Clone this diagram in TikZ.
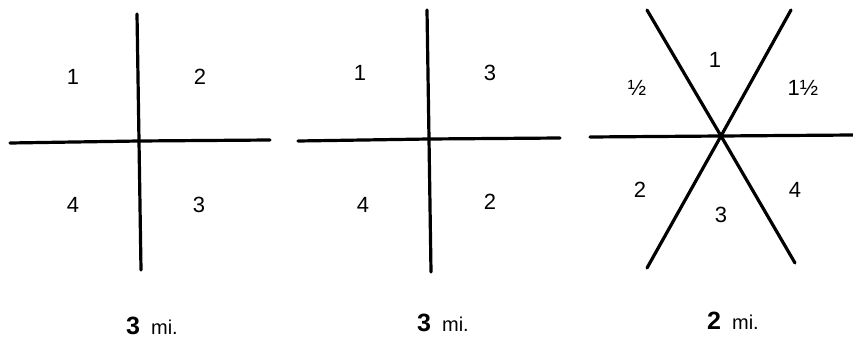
\documentclass[tikz,border=0pt]{standalone}
\usepackage{fontspec}
\setmainfont{Liberation Sans}
\usepackage{tikz}
\usetikzlibrary{positioning, calc}

\begin{document}
\begin{tikzpicture}[x=1pt, y=-1pt,
    road/.style={line width=3.2pt, line cap=round},
    zone/.style={font=\fontsize{22}{22}\selectfont, inner sep=0pt},
    caption/.style={font=\fontsize{20}{20}\selectfont, inner sep=0pt, anchor=base}]
    \useasboundingbox (0,0) rectangle (853,339);

    % first layout
    \coordinate (a) at (139,141);
    \draw[road] (137,14) -- (a) -- (141,270);
    \draw[road] (10,143) -- (a) -- (270,140);
    \node[zone] (a1) at (73,77) {1};
    \node[zone] (a2) at (200,77) {2};
    \node[zone] (a4) at (73,205) {4};
    \node[zone] (a3) at (199,205) {3};
    \node[caption] (acap) at (152,334) {\textbf{\fontsize{25}{25}\selectfont 3}\hspace{11pt}mi.};

    % second layout
    \coordinate (b) at (429,139);
    \draw[road] (427,10) -- (b) -- (431,272);
    \draw[road] (298,141) -- (b) -- (560,138);
    \node[zone] (b1) at (360,73) {1};
    \node[zone] (b3) at (490,73) {3};
    \node[zone] (b4) at (363,205) {4};
    \node[zone] (b2) at (490,202) {2};
    \node[caption] (bcap) at (443,331) {\textbf{\fontsize{25}{25}\selectfont 3}\hspace{11pt}mi.};

    % third layout
    \coordinate (c) at (721,136);
    \draw[road] (590,137) -- (c) -- (853,135);
    \draw[road] (647,10) -- (c) -- (795,263);
    \draw[road] (791,10) -- (c) -- (647,268);
    \node[zone] (c1) at (715,60) {1};
    \node[zone] (chalf) at (637,88) {½};
    \node[zone] (conehalf) at (803,88) {1½};
    \node[zone] (c2) at (640,190) {2};
    \node[zone] (c3) at (721,215) {3};
    \node[zone] (c4) at (795,190) {4};
    \node[caption] (ccap) at (733,329) {\textbf{\fontsize{25}{25}\selectfont 2}\hspace{11pt}mi.};
\end{tikzpicture}
\end{document}
